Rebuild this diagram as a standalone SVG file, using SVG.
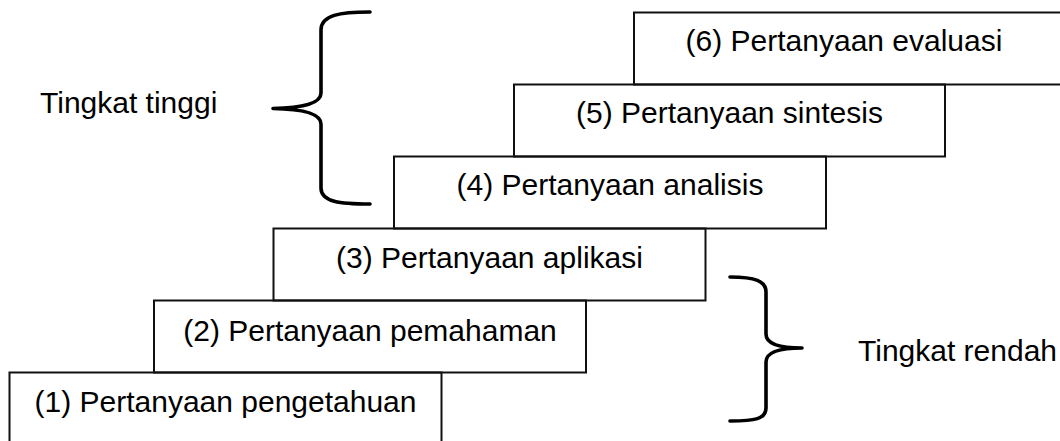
<svg xmlns="http://www.w3.org/2000/svg" width="1060" height="441" viewBox="0 0 1060 441">
  <style>
    .box { fill: none; stroke: #111; stroke-width: 2; }
    .lbl { font-family: "Liberation Sans", Arial, sans-serif; font-size: 30px; fill: #000; text-anchor: middle; }
    .side { font-family: "Liberation Sans", Arial, sans-serif; font-size: 30px; fill: #000; }
    .brace { fill: none; stroke: #000; stroke-width: 3.6; stroke-linecap: round; stroke-linejoin: round; }
  </style>
  <rect width="1060" height="441" fill="#fff"/>
  <g id="box1">
    <rect class="box" x="9.5" y="372.5" width="432" height="72"/>
    <text class="lbl" x="225.5" y="412">(1) Pertanyaan pengetahuan</text>
  </g>
  <g id="box2">
    <rect class="box" x="154" y="300.5" width="432" height="72"/>
    <text class="lbl" x="370" y="341">(2) Pertanyaan pemahaman</text>
  </g>
  <g id="box3">
    <rect class="box" x="273.5" y="228.5" width="432" height="72"/>
    <text class="lbl" x="489.5" y="268">(3) Pertanyaan aplikasi</text>
  </g>
  <g id="box4">
    <rect class="box" x="394" y="156.5" width="432" height="72"/>
    <text class="lbl" x="610" y="195">(4) Pertanyaan analisis</text>
  </g>
  <g id="box5">
    <rect class="box" x="514" y="84.5" width="431" height="72"/>
    <text class="lbl" x="729.5" y="123">(5) Pertanyaan sintesis</text>
  </g>
  <g id="box6">
    <rect class="box" x="634" y="12.5" width="432" height="72"/>
    <text class="lbl" x="844" y="51">(6) Pertanyaan evaluasi</text>
  </g>
  <g id="connectors">
    <path class="brace" d="M370,12 C340,12 321,15 321,30 L321,93 C321,104 300,108 273,108.5 C300,109 321,113 321,124 L321,188 C321,202 340,204 370,204"/>
    <path class="brace" d="M730,277 C755,277 766,281 766,292 L766,334 C766,344 780,348 802,348 C780,348 766,352 766,362 L766,408 C766,419 755,421 730,421"/>
  </g>
  <g id="label-tinggi">
    <text class="side" x="40" y="113">Tingkat tinggi</text>
  </g>
  <g id="label-rendah">
    <text class="side" x="858" y="361">Tingkat rendah</text>
  </g>
</svg>
